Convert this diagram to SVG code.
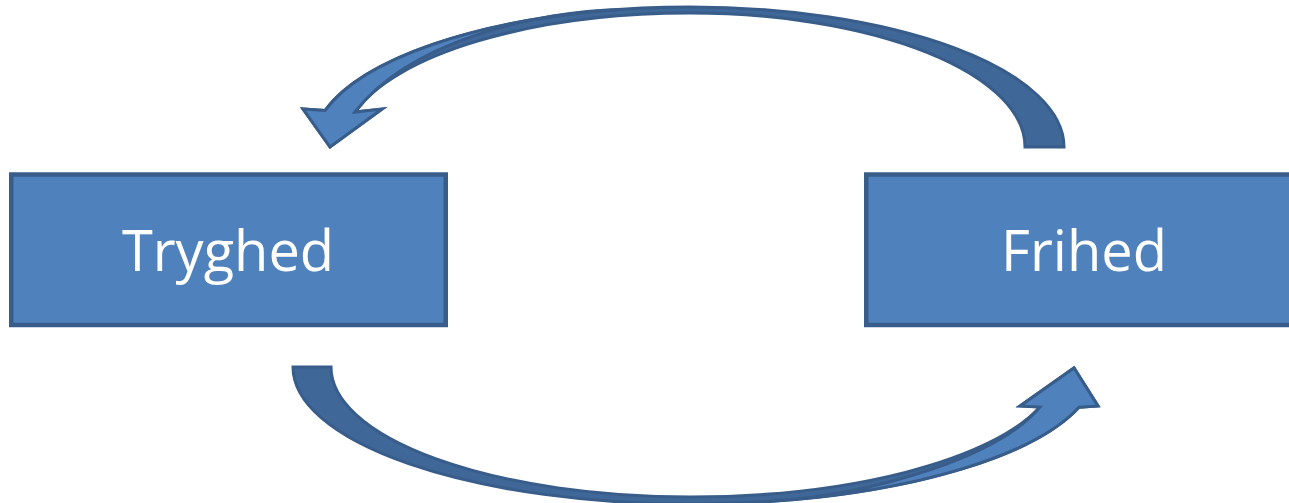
<svg xmlns="http://www.w3.org/2000/svg" width="1289" height="503" viewBox="0 0 1289 503">
<style>
.box{fill:#4f81bd;stroke:#385d8a;stroke-width:4.5}
.lbl{font-family:"Open Sans","Liberation Sans",sans-serif;font-size:56px;fill:#ffffff;text-anchor:middle}
.back{fill:#3f6797;stroke:#385d8a;stroke-width:3;stroke-linejoin:miter}
.front{fill:#4f81bd;stroke:#385d8a;stroke-width:3;stroke-linejoin:miter}
</style>
<rect width="1289" height="503" fill="#ffffff"/>
<g id="connectors">
  <g id="arrow-top">
    <path class="back" d="M1064,147 A374 140 0 0 0 690 7 A378 140 0 0 0 325 110.6 L303,109 L330,147 L382,109 L355,112 A347 134 0 0 1 690 13 A335 134 0 0 1 1025 147 Z"/>
    <path class="front" d="M325,110.6 L303,109 L330,147 L382,109 L355,112 C410,40 540,11 620,9.4 A378 140 0 0 0 325 110.6 Z"/>
  </g>
  <g id="arrow-bottom">
    <path class="back" d="M293,367 A397 137 0 0 0 690 504 A407 137 0 0 0 1079 407.3 L1098,406 L1074,368 L1020,406 L1040,407 A368 130 0 0 1 690 497 A359 130 0 0 1 331 367 Z"/>
    <path class="front" d="M1079,407.3 L1098,406 L1074,368 L1020,406 L1040,407 C1000,455 880,494 770,501.3 A407 137 0 0 0 1079 407.3 Z"/>
  </g>
</g>
<g id="node-tryghed">
  <rect class="box" x="11.25" y="174.5" width="434.5" height="150.5"/>
  <text class="lbl" x="228" y="271">Tryghed</text>
</g>
<g id="node-frihed">
  <rect class="box" x="866.25" y="174.5" width="436" height="150.5"/>
  <text class="lbl" x="1084" y="271">Frihed</text>
</g>
</svg>
